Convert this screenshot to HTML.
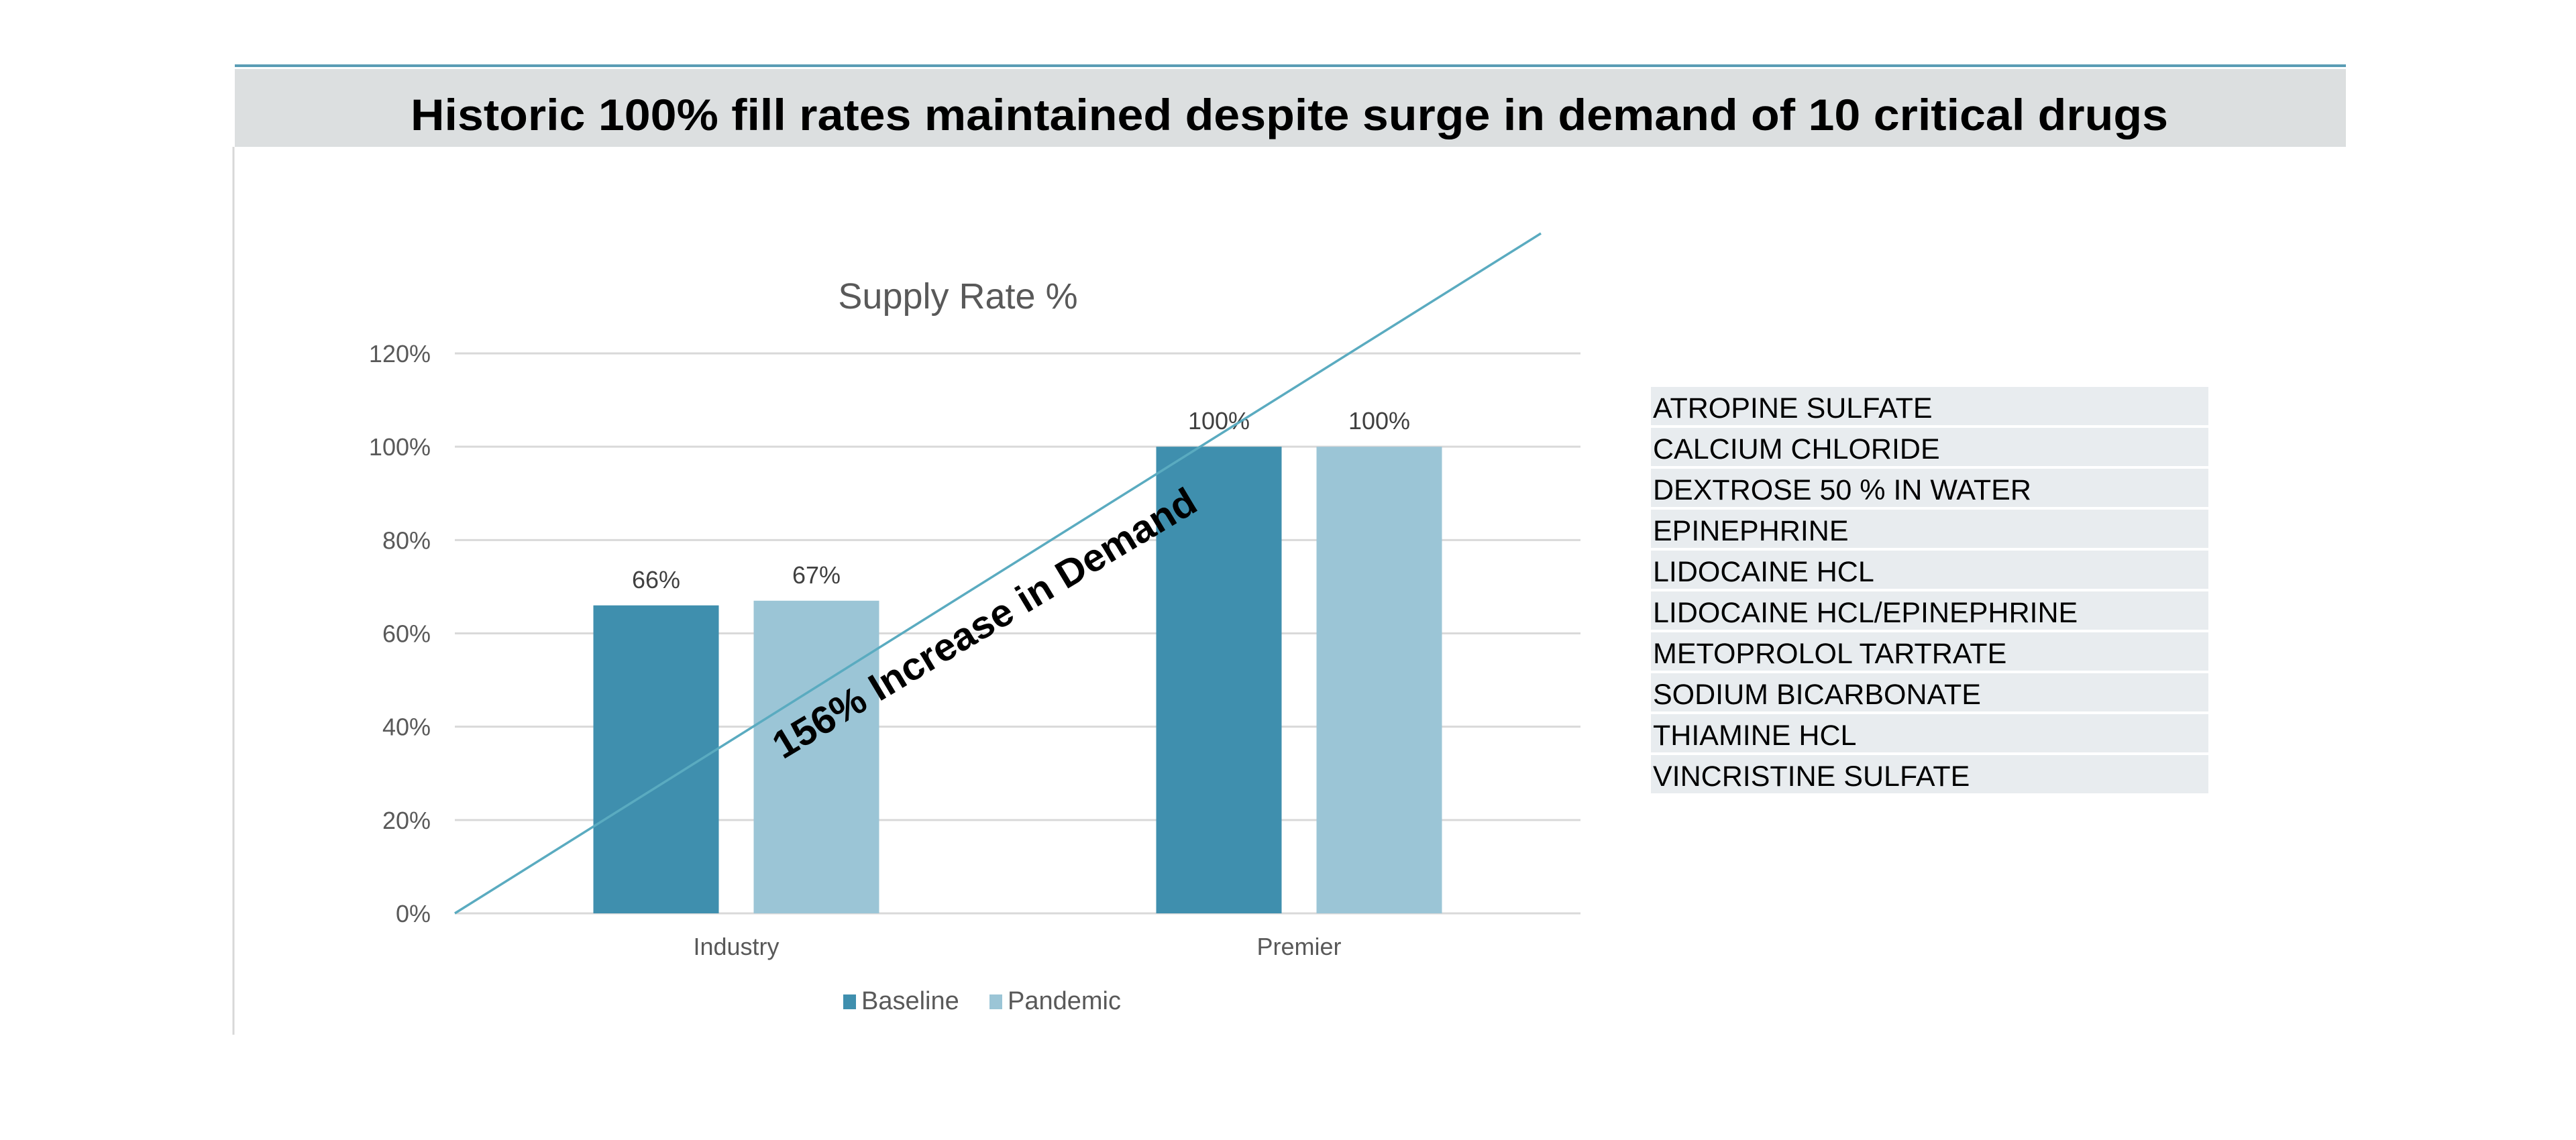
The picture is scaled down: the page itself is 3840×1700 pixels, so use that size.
<!DOCTYPE html>
<html><head><meta charset="utf-8"><style>html,body{margin:0;padding:0;background:#fff}svg{display:block}</style></head>
<body>
<svg id="chart" width="3840" height="1700" viewBox="0 0 3840 1700" xmlns="http://www.w3.org/2000/svg" font-family="'Liberation Sans', Arial, sans-serif">
<rect x="0" y="0" width="3840" height="1700" fill="#ffffff"/>
<line x1="350" y1="98" x2="3497" y2="98" stroke="#5a9db5" stroke-width="4"/>
<rect x="350" y="103" width="3147" height="116" fill="#dcdfe0"/>
<text x="1922" y="194" text-anchor="middle" font-size="66" font-weight="bold" fill="#000" textLength="2620" lengthAdjust="spacingAndGlyphs">Historic 100% fill rates maintained despite surge in demand of 10 critical drugs</text>
<line x1="348" y1="219" x2="348" y2="1543" stroke="#d8d8d8" stroke-width="3"/>
<text x="1428" y="460" text-anchor="middle" font-size="54" fill="#595959">Supply Rate %</text>
<g id="grid"></g><g id="bars"></g><g id="labels"></g>
<line x1="678" y1="1362" x2="2297" y2="348" stroke="#5aabc0" stroke-width="3.5"/>
<text transform="translate(1167,1133) rotate(-31)" font-size="58" font-weight="bold" fill="#000" textLength="725" lengthAdjust="spacingAndGlyphs">156% Increase in Demand</text>
<g>
<rect x="1257" y="1483" width="19" height="22" fill="#3f8fae"/>
<text x="1284" y="1505" font-size="38" fill="#595959">Baseline</text>
<rect x="1475" y="1483" width="19" height="22" fill="#9bc5d6"/>
<text x="1502" y="1505" font-size="38" fill="#595959">Pandemic</text>
</g>
<g id="druglist"></g>
</svg>
<script>
const categories = ["Industry", "Premier"];
const baseline = [66, 100];
const pandemic = [67, 100];
const yTicks = [0, 20, 40, 60, 80, 100, 120];
const tickLabels = ["0%", "20%", "40%", "60%", "80%", "100%", "120%"];
const drugs = ["ATROPINE SULFATE","CALCIUM CHLORIDE","DEXTROSE 50 % IN WATER","EPINEPHRINE","LIDOCAINE HCL","LIDOCAINE HCL/EPINEPHRINE","METOPROLOL TARTRATE","SODIUM BICARBONATE","THIAMINE HCL","VINCRISTINE SULFATE"];

const NS = "http://www.w3.org/2000/svg";
const plotL = 678, plotR = 2356, y0 = 1362, y120 = 527;
function yScale(v){ return y0 - (v/120)*(y0-y120); }
function xBand(i){ const w=(plotR-plotL)/categories.length; return plotL + w*i + w/2; }
function mk(tag, attrs, parent){ const e=document.createElementNS(NS,tag); for(const k in attrs) e.setAttribute(k,attrs[k]); parent.appendChild(e); return e; }

const grid=document.getElementById('grid');
yTicks.forEach((t,i)=>{
  const l=mk('line',{x1:plotL,x2:plotR,y1:yScale(t),y2:yScale(t),stroke:'#d9d9d9','stroke-width':3},grid);
  
  
  const tx=mk('text',{x:642,y:yScale(t)+13,'text-anchor':'end','font-size':36,fill:'#595959'},grid);
  tx.textContent=tickLabels[i];
  
  
});

const bars=document.getElementById('bars'), labels=document.getElementById('labels');
const bw=187, gap=52;
categories.forEach((c,i)=>{
  const cx=xBand(i);
  [[baseline,'#3f8fae',cx-gap/2-bw,'bar-baseline'],[pandemic,'#9bc5d6',cx+gap/2,'bar-pandemic']].forEach(([arr,col,x,nm])=>{
    const v=arr[i];
    const r=mk('rect',{x:x,y:yScale(v),width:bw,height:y0-yScale(v),fill:col},bars);
    
    
    const t=mk('text',{x:x+bw/2,y:yScale(v)-26,'text-anchor':'middle','font-size':36,fill:'#404040'},labels);
    t.textContent=v+'%';
    
    
  });
  const ct=mk('text',{x:cx,y:1424,'text-anchor':'middle','font-size':36,fill:'#595959'},labels);
  ct.textContent=c;
  
  
});

const dl=document.getElementById('druglist');
drugs.forEach((d,i)=>{
  const y=577+i*61;
  const r=mk('rect',{x:2461,y:y,width:831,height:57,fill:'#e8ecef'},dl);
  
  
  const t=mk('text',{x:2464,y:y+46,'font-size':43,fill:'#000'},dl);
  t.textContent=d;
  
  
});
</script>
</body></html>
